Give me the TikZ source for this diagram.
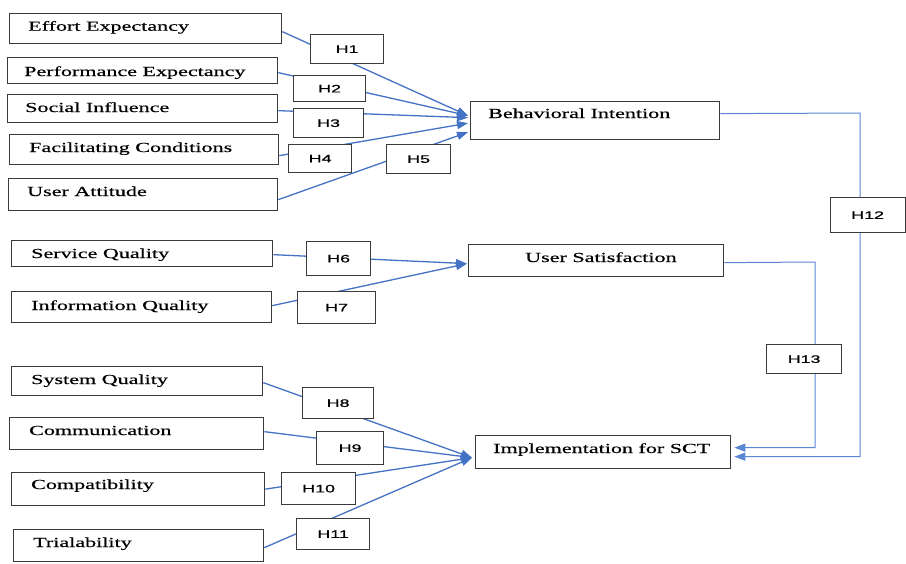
\documentclass[tikz,border=0pt]{standalone}
\usepackage{fontspec}
\usetikzlibrary{arrows.meta}
\newfontfamily\labfont[FakeStretch=1.6,FakeBold=0.5]{Liberation Serif}
\newfontfamily\hypfont[FakeStretch=1.65,FakeBold=1]{Liberation Sans}
\definecolor{linkblue}{HTML}{4472C4}
\definecolor{linkblueb}{HTML}{5B86D3}
\definecolor{boxgray}{HTML}{3A3A3A}

\begin{document}
\begin{tikzpicture}[x=1pt,y=-1pt,
  cbox/.style={draw=boxgray, line width=1.3pt, fill=white, inner sep=0pt, anchor=north west},
  lab/.style={font=\labfont\fontsize{13.8}{16}\selectfont, inner sep=0pt, anchor=base west},
  hyp/.style={draw=boxgray, line width=1.3pt, fill=white, inner sep=0pt, anchor=north west,
    font=\hypfont\fontsize{10.8}{13}\selectfont},
  link/.style={draw=linkblue, line width=1.3pt, -{Triangle[length=11pt,width=8pt]}},
  linkb/.style={draw=linkblueb, line width=1pt, -{Triangle[length=11pt,width=8pt]}}
]
\useasboundingbox (0,0) rectangle (906,563);

% construct boxes
\node[cbox, minimum width=272pt, minimum height=30pt] (ee) at (9,13) {};
\node[cbox, minimum width=270pt, minimum height=26pt] (pe) at (7,57) {};
\node[cbox, minimum width=270pt, minimum height=28pt] (si) at (7,94) {};
\node[cbox, minimum width=269pt, minimum height=30pt] (fc) at (9,134) {};
\node[cbox, minimum width=269pt, minimum height=32pt] (ua) at (8,178) {};
\node[cbox, minimum width=261pt, minimum height=26pt] (sq) at (11,240) {};
\node[cbox, minimum width=260pt, minimum height=31pt] (iq) at (11,291) {};
\node[cbox, minimum width=251pt, minimum height=29pt] (sys) at (11,366) {};
\node[cbox, minimum width=254pt, minimum height=32pt] (comm) at (9,417) {};
\node[cbox, minimum width=253pt, minimum height=33pt] (compat) at (11,472) {};
\node[cbox, minimum width=250pt, minimum height=32pt] (trial) at (13,529) {};
\node[cbox, minimum width=249pt, minimum height=38pt] (bi) at (470,101) {};
\node[cbox, minimum width=255pt, minimum height=32pt] (us) at (468,244) {};
\node[cbox, minimum width=255pt, minimum height=33pt] (im) at (475,435) {};

% box labels
\node[lab] (ee-t) at (28,30.7) {Effort Expectancy};
\node[lab] (pe-t) at (24,76) {Performance Expectancy};
\node[lab] (si-t) at (25,112) {Social Influence};
\node[lab] (fc-t) at (29,152) {Facilitating Conditions};
\node[lab] (ua-t) at (27,196) {User Attitude};
\node[lab] (sq-t) at (31,258) {Service Quality};
\node[lab] (iq-t) at (31,310) {Information Quality};
\node[lab] (sys-t) at (31,384) {System Quality};
\node[lab] (comm-t) at (29,435) {Communication};
\node[lab] (compat-t) at (31,489) {Compatibility};
\node[lab] (trial-t) at (33,547) {Trialability};
\node[lab] (bi-t) at (488,118) {Behavioral Intention};
\node[lab] (us-t) at (525,262) {User Satisfaction};
\node[lab] (im-t) at (493,453) {Implementation for SCT};

% paths to Behavioral Intention
\draw[link] ([yshift=-3pt]ee.east) -- ([xshift=-2pt,yshift=5pt]bi.west);
\draw[link] ([yshift=-2pt]pe.east) -- ([xshift=-2pt,yshift=5pt]bi.west);
\draw[link] ([yshift=-2pt]si.east) -- ([xshift=-2pt,yshift=3pt]bi.west);
\draw[link] ([yshift=-6pt]fc.east) -- ([xshift=-2pt,yshift=-2.5pt]bi.west);
\draw[link] ([yshift=-5pt]ua.east) -- ([xshift=-2pt,yshift=-11.5pt]bi.west);
% paths to User Satisfaction
\draw[link] ([yshift=-1pt]sq.east) -- ([xshift=-1pt,yshift=-3pt]us.west);
\draw[link] ([yshift=1.5pt]iq.east) -- ([xshift=-1pt,yshift=-3pt]us.west);
% paths to Implementation for SCT
\draw[link] ([yshift=-1.5pt]sys.east) -- ([xshift=-3pt,yshift=-5.5pt]im.west);
\draw[link] ([yshift=2pt]comm.east) -- ([xshift=-3pt,yshift=-5.5pt]im.west);
\draw[link] (compat.east) -- ([xshift=-3pt,yshift=-5.5pt]im.west);
\draw[link] ([yshift=-2pt]trial.east) -- ([xshift=-3pt,yshift=-5.5pt]im.west);

% right-hand paths
\coordinate (r12) at (860,113);
\coordinate (r13) at (815,262);
\draw[linkb] ([yshift=7pt]bi.east) -- (r12) |- ([xshift=3pt,yshift=-4.5pt]im.east);
\draw[linkb] ([yshift=-2pt]us.east) -- (r13) |- ([xshift=3pt,yshift=4.5pt]im.east);

% hypothesis boxes
\node[hyp, minimum width=73pt, minimum height=29pt] (h1) at (310,34) {H1\hspace{6pt}};
\node[hyp, minimum width=72pt, minimum height=26pt] (h2) at (293,75) {H2};
\node[hyp, minimum width=70pt, minimum height=29pt] (h3) at (293,108) {H3};
\node[hyp, minimum width=63pt, minimum height=28pt] (h4) at (288,144) {H4};
\node[hyp, minimum width=64pt, minimum height=29pt] (h5) at (386,144) {H5};
\node[hyp, minimum width=64pt, minimum height=34pt] (h6) at (306,241) {H6};
\node[hyp, minimum width=78pt, minimum height=32pt] (h7) at (297,291) {H7\hspace{12pt}};
\node[hyp, minimum width=71pt, minimum height=31pt] (h8) at (302,387) {H8};
\node[hyp, minimum width=67pt, minimum height=33pt] (h9) at (316,431) {H9};
\node[hyp, minimum width=74pt, minimum height=32pt] (h10) at (281,472) {H10};
\node[hyp, minimum width=73pt, minimum height=31pt] (h11) at (296,518) {H11};
\node[hyp, minimum width=75pt, minimum height=35pt] (h12) at (829.5,197) {H12};
\node[hyp, minimum width=75pt, minimum height=29pt] (h13) at (766,344) {H13};
\end{tikzpicture}
\end{document}
